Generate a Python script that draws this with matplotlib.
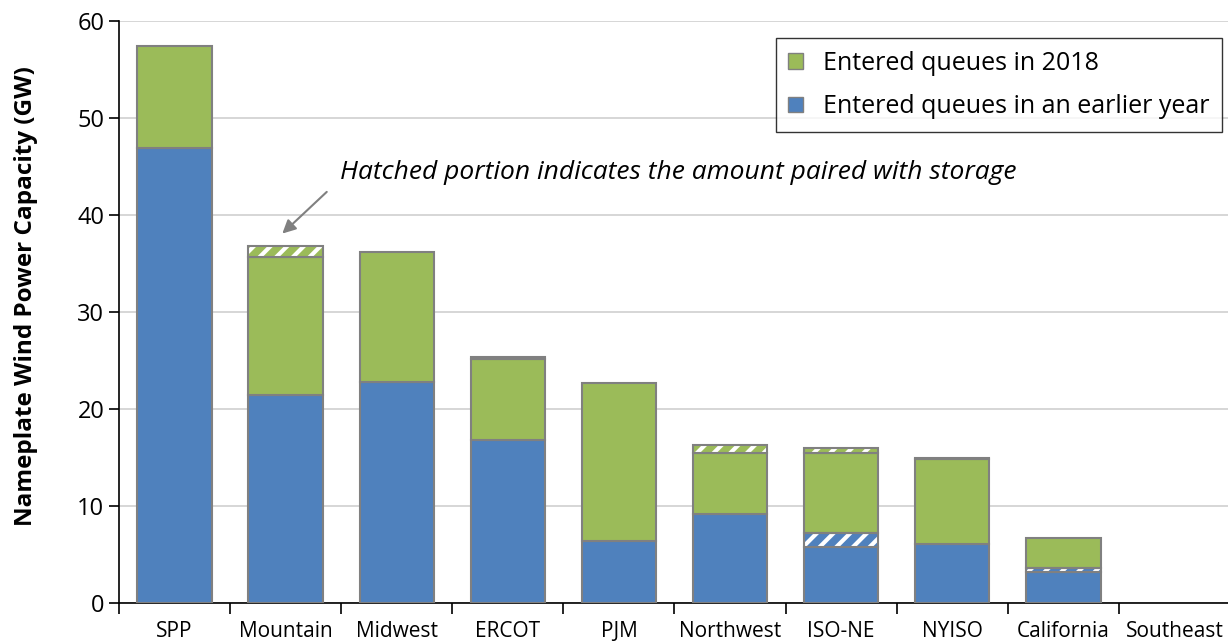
import matplotlib.pyplot as plt
import numpy as np
from matplotlib.patches import Patch

plt.rcParams['font.family'] = ['Open Sans', 'DejaVu Sans']
plt.rcParams['hatch.linewidth'] = 3.0

regions = ["SPP", "Mountain", "Midwest", "ERCOT", "PJM", "Northwest",
           "ISO-NE", "NYISO", "California", "Southeast"]

# GW
earlier = [46.9, 21.4, 22.8, 16.8, 6.4, 9.2, 5.8, 6.1, 3.2, 0.0]
earlier_storage = [0.0, 0.0, 0.0, 0.0, 0.0, 0.0, 1.4, 0.0, 0.4, 0.0]
new_2018 = [10.5, 14.3, 13.4, 8.4, 16.3, 6.3, 8.3, 8.7, 3.1, 0.0]
new_2018_storage = [0.0, 1.1, 0.0, 0.2, 0.0, 0.8, 0.5, 0.2, 0.0, 0.0]

blue = "#4F81BD"
green = "#9BBB59"
edge = "#808080"

fig = plt.figure(figsize=(12.28, 6.44), dpi=100)
ax = fig.add_axes([0.0969, 0.0637, 0.9047, 0.9033])

x = np.arange(len(regions))
w = 0.67

# stack the four segments; hatched ones get white stripes
segments = [(earlier, blue, False), (earlier_storage, blue, True),
            (new_2018, green, False), (new_2018_storage, green, True)]
bottom = np.zeros(len(regions))
for vals, col, hatched in segments:
    vals = np.array(vals)
    mask = vals > 0
    if hatched:
        ax.bar(x[mask], vals[mask], w, bottom=bottom[mask], color=col,
               edgecolor="white", hatch="//", linewidth=0, zorder=3)
        ax.bar(x[mask], vals[mask], w, bottom=bottom[mask], fill=False,
               edgecolor=edge, linewidth=1.5, zorder=4)
    else:
        ax.bar(x[mask], vals[mask], w, bottom=bottom[mask], color=col,
               edgecolor=edge, linewidth=1.5, zorder=3)
    bottom += vals

ax.set_ylim(0, 60)
ax.set_xlim(-0.5, 9.5)
ax.set_yticks(range(0, 61, 10))
ax.yaxis.grid(True, color="#d0d0d0", linewidth=1.2, zorder=0)
ax.set_axisbelow(True)

ax.set_xticks(x)
ax.set_xticklabels(regions, fontsize=15)
ax.set_xticks(np.arange(-0.5, 9.6, 1.0), minor=True)
ax.tick_params(axis="x", which="major", length=0, pad=13)
ax.tick_params(axis="x", which="minor", length=8, width=1.2, direction="out")
ax.tick_params(axis="y", labelsize=17, length=7, width=1.2, direction="out")

for s in ["top", "right"]:
    ax.spines[s].set_visible(False)
ax.spines["left"].set_linewidth(1.2)
ax.spines["bottom"].set_linewidth(1.2)

ax.set_ylabel("Nameplate Wind Power Capacity (GW)", fontsize=17.5,
              fontweight="bold")
ax.yaxis.set_label_coords(-0.0725, 0.527)

# note and its arrow
ax.text(1.49, 44.4, "Hatched portion indicates the amount paired with storage",
        fontsize=19, style="italic", ha="left", va="center")
ax.annotate("", xy=(0.97, 38.1), xytext=(1.37, 42.4),
            arrowprops=dict(arrowstyle="-|>", color="#808080", lw=1.5,
                            shrinkA=0, shrinkB=0, mutation_scale=20))

handles = [Patch(facecolor=green, edgecolor=edge, label="Entered queues in 2018"),
           Patch(facecolor=blue, edgecolor=edge,
                 label="Entered queues in an earlier year")]
leg = ax.legend(handles=handles, loc="upper right", bbox_to_anchor=(0.993, 0.971),
                borderaxespad=0, fontsize=18, frameon=True, fancybox=False,
                edgecolor="black", handlelength=0.6, handleheight=0.6,
                handletextpad=0.8, labelspacing=0.75, borderpad=0.5)
leg.get_frame().set_linewidth(1.0)

fig.savefig("out.png", dpi=100)
